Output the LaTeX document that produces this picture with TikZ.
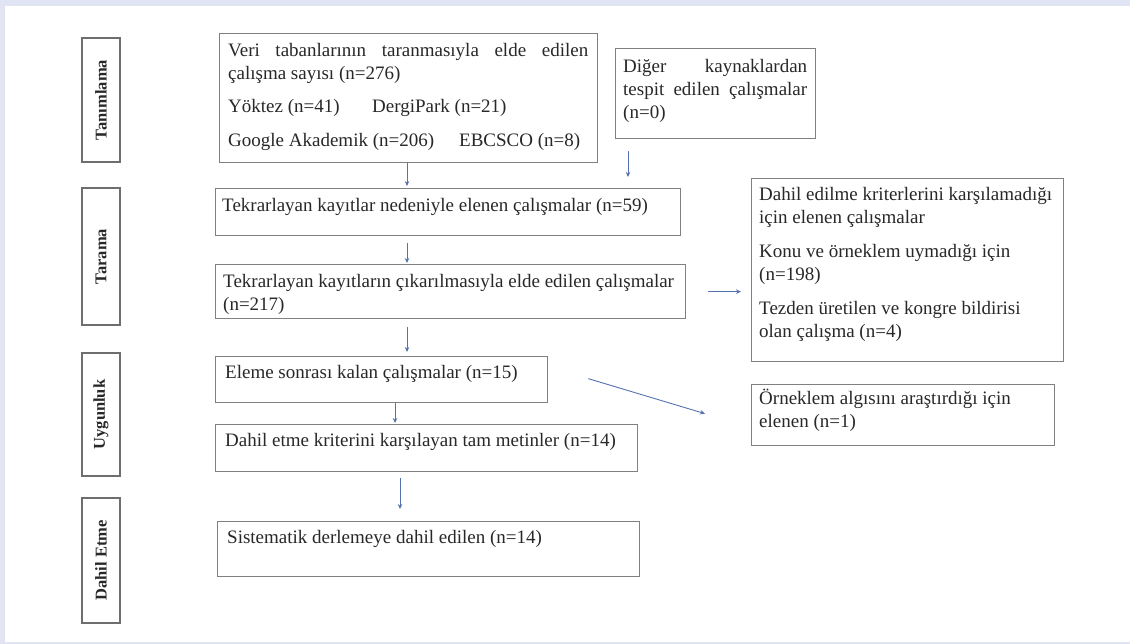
\documentclass[tikz,border=0pt]{standalone}
\usepackage{fontspec}
\setmainfont{Liberation Serif}
\usetikzlibrary{arrows.meta}
\definecolor{bgl}{RGB}{225,228,242}
\definecolor{boxc}{RGB}{128,128,128}
\definecolor{sidec}{RGB}{110,110,110}
\definecolor{arrc}{RGB}{84,114,176}
\definecolor{txtc}{RGB}{40,40,40}
\begin{document}
\begin{tikzpicture}[x=1pt,y=-1pt,
  box/.style={draw=boxc, line width=1.3pt, anchor=north west, inner sep=0pt},
  side/.style={draw=sidec, line width=1.3pt, minimum width=38pt, inner sep=0pt, text=txtc,
    font=\bfseries\fontsize{16.5}{18}\selectfont},
  txt/.style={anchor=base west, inner sep=0pt, text=txtc, font=\fontsize{19}{23}\selectfont},
  arr/.style={draw=arrc, line width=0.9pt, -{Stealth[length=5pt,width=4.5pt]}}]
\useasboundingbox (0,0) rectangle (1130,644);
\fill[bgl] (0,0) rectangle (1130,644);
\fill[white] (5,6) rectangle (1130,642);

% side labels
\node[side, minimum height=124pt] (s1) at (101,100) {\rotatebox{90}{Tanımlama}};
\node[side, minimum height=137pt] (s2) at (101,256.5) {\rotatebox{90}{Tarama}};
\node[side, minimum height=123pt] (s3) at (101,414.5) {\rotatebox{90}{Uygunluk}};
\node[side, minimum height=125pt] (s4) at (101,560.5) {\rotatebox{90}{Dahil Etme}};

% boxes
\node[box, minimum width=378pt, minimum height=129pt] (A) at (219,33) {};
\node[box, minimum width=200pt, minimum height=90pt] (O) at (615,48) {};
\node[box, minimum width=465pt, minimum height=47pt] (B) at (215,188) {};
\node[box, minimum width=470pt, minimum height=54pt] (C) at (215,264) {};
\node[box, minimum width=332pt, minimum height=46pt] (D) at (215,356) {};
\node[box, minimum width=422pt, minimum height=47pt] (E) at (215,424) {};
\node[box, minimum width=422pt, minimum height=55pt] (F) at (217,521) {};
\node[box, minimum width=312pt, minimum height=183pt] (R1) at (751,178) {};
\node[box, minimum width=303pt, minimum height=61pt] (R2) at (751,384) {};

% texts
\node[txt] (tA) at ([shift={(9,24)}]A.north west) {\parbox[t]{360pt}{%
\makebox[360pt][s]{Veri tabanlarının taranmasıyla elde edilen}\par
çalışma sayısı (n=276)\par\vspace{10pt}
\makebox[144pt][l]{Yöktez (n=41)}DergiPark (n=21)\par\vspace{10.5pt}
\makebox[231pt][l]{Google Akademik (n=206)}EBCSCO (n=8)}};
\node[txt] (tO) at ([shift={(8,25)}]O.north west) {\parbox[t]{184pt}{%
\makebox[184pt][s]{Diğer kaynaklardan}\par
\makebox[184pt][s]{tespit edilen çalışmalar}\par
(n=0)}};
\node[txt] (tB) at ([shift={(7,24)}]B.north west) {Tekrarlayan kayıtlar nedeniyle elenen çalışmalar (n=59)};
\node[txt] (tC) at ([shift={(8,24)}]C.north west) {\parbox[t]{460pt}{%
Tekrarlayan kayıtların çıkarılmasıyla elde edilen çalışmalar\par
(n=217)}};
\node[txt] (tD) at ([shift={(10,22)}]D.north west) {Eleme sonrası kalan çalışmalar (n=15)};
\node[txt] (tE) at ([shift={(10,22)}]E.north west) {Dahil etme kriterini karşılayan tam metinler (n=14)};
\node[txt] (tF) at ([shift={(10,22)}]F.north west) {Sistematik derlemeye dahil edilen (n=14)};
\node[txt] (tR1) at ([shift={(8,23)}]R1.north west) {\parbox[t]{300pt}{%
Dahil edilme kriterlerini karşılamadığı\par
için elenen çalışmalar\par\vspace{11pt}
Konu ve örneklem uymadığı için\par
(n=198)\par\vspace{11pt}
Tezden üretilen ve kongre bildirisi\par
olan çalışma (n=4)}};
\node[txt] (tR2) at ([shift={(8,20)}]R2.north west) {\parbox[t]{290pt}{%
Örneklem algısını araştırdığı için\par
elenen (n=1)}};

% connectors
\draw[arr, shorten >=2pt] ([xshift=188]A.south west) -- ([xshift=192]B.north west);
\draw[arr, shorten <=12pt, shorten >=11pt] ([xshift=13]O.south west) -- ([xshift=413]B.north west);
\draw[arr, shorten <=7pt, shorten >=1pt] ([xshift=192]B.south west) -- ([xshift=192]C.north west);
\draw[arr, shorten <=8pt, shorten >=4pt] ([xshift=192]C.south west) -- ([xshift=192]D.north west);
\draw[arr, shorten >=1pt] ([xshift=180]D.south west) -- ([xshift=180]E.north west);
\draw[arr, shorten <=6pt, shorten >=12pt] ([xshift=185]E.south west) -- ([xshift=183]F.north west);
\draw[arr, shorten <=22pt, shorten >=10pt] (C.east) -- (R1.west |- C.east);
\draw[arr] ([shift={(40,-1)}]D.east) -- ([shift={(-46,-1.5)}]R2.west);
\end{tikzpicture}
\end{document}
